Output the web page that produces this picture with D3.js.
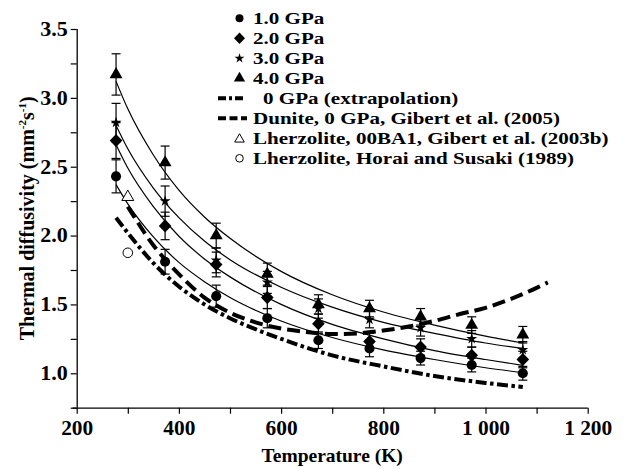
<!DOCTYPE html>
<html>
<head>
<meta charset="utf-8">
<script src="https://cdn.jsdelivr.net/npm/d3@7"></script>
<style>
  html, body { margin: 0; padding: 0; background: #fff; }
  svg { display: block; }
  text { font-family: "Liberation Serif", "Times New Roman", serif; font-weight: bold; fill: #000; }
</style>
</head>
<body>
<svg id="chart" width="629" height="469"></svg>
<script>
// ---------- data ----------
const temps = [277, 373, 473, 573, 673, 773, 873, 973, 1073];
const gpa1 = [2.43, 1.81, 1.56, 1.40, 1.24, 1.18, 1.11, 1.06, 1.00];
const gpa1Err = [0.12, 0.09, 0.08, 0.07, 0.06, 0.06, 0.05, 0.05, 0.05];
const gpa2 = [2.69, 2.07, 1.79, 1.55, 1.36, 1.23, 1.19, 1.13, 1.10];
const gpa2Err = [0.13, 0.10, 0.09, 0.08, 0.07, 0.06, 0.06, 0.06, 0.06];
const gpa3 = [2.82, 2.25, 1.82, 1.66, 1.47, 1.39, 1.33, 1.25, 1.17];
const gpa3Err = [0.14, 0.11, 0.09, 0.08, 0.07, 0.06, 0.06, 0.06, 0.06];
const gpa4 = [3.17, 2.53, 2.00, 1.72, 1.50, 1.47, 1.41, 1.35, 1.28];
const gpa4Err = [0.15, 0.12, 0.09, 0.08, 0.07, 0.06, 0.06, 0.06, 0.06];

// fitted curves
const fitTemps = [277, 300, 350, 400, 450, 500, 600, 700, 800, 900, 1000, 1073];
const fit1 = [2.37, 2.23, 1.99, 1.805, 1.665, 1.55, 1.38, 1.26, 1.17, 1.10, 1.04, 1.005];
const fit2 = [2.66, 2.49, 2.21, 1.995, 1.83, 1.70, 1.50, 1.355, 1.25, 1.165, 1.10, 1.058];
const fit3 = [2.80, 2.63, 2.345, 2.13, 1.96, 1.825, 1.625, 1.48, 1.37, 1.29, 1.22, 1.18];
const fit4 = [3.12, 2.92, 2.585, 2.33, 2.135, 1.98, 1.74, 1.57, 1.445, 1.35, 1.27, 1.22];

// 0 GPa extrapolation
const extrapTemps = [277, 300, 350, 400, 450, 500, 550, 600, 700, 800, 900, 1000, 1073];
const extrapVals = [2.13, 2.02, 1.80, 1.63, 1.50, 1.40, 1.32, 1.25, 1.13, 1.05, 0.98, 0.93, 0.90];

// Dunite, Gibert et al. (2005)
const duniteTemps = [300, 350, 400, 450, 500, 550, 600, 650, 700, 750, 800, 850, 900, 950, 1000, 1050, 1100, 1122];
const duniteVals = [2.21, 1.93, 1.72, 1.55, 1.44, 1.37, 1.325, 1.30, 1.285, 1.29, 1.31, 1.34, 1.38, 1.43, 1.475, 1.54, 1.62, 1.66];

// single literature points
const lherzGibert = [{t: 300, v: 2.28}];
const lherzHorai = [{t: 300, v: 1.875}];

const xTicks = [200, 300, 400, 500, 600, 700, 800, 900, 1000, 1100, 1200];
const xTickLabels = ["200", "", "400", "", "600", "", "800", "", "1 000", "", "1 200"];
const yTicks = [0.75, 1.0, 1.25, 1.5, 1.75, 2.0, 2.25, 2.5, 2.75, 3.0, 3.25, 3.5];
const yTickLabels = ["", "1.0", "", "1.5", "", "2.0", "", "2.5", "", "3.0", "", "3.5"];

const legendLabels = ["1.0 GPa", "2.0 GPa", "3.0 GPa", "4.0 GPa",
  "0 GPa (extrapolation)", "Dunite, 0 GPa, Gibert et al. (2005)",
  "Lherzolite, 00BA1, Gibert et al. (2003b)", "Lherzolite, Horai and Susaki (1989)"];

// ---------- drawing ----------
const svg = d3.select("#chart");
const x = d3.scaleLinear().domain([200, 1200]).range([76.7, 587.7]);
const y = d3.scaleLinear().domain([0.75, 3.5]).range([407.7, 29]);

// axes
const xAxis = d3.axisBottom(x).tickValues(xTicks).tickSize(6).tickSizeOuter(0)
  .tickFormat((d, i) => xTickLabels[i]);
const gx = svg.append("g").attr("transform", `translate(0,${y(0.75)})`).call(xAxis);
gx.select(".domain").attr("d", `M${x(200) - 4},0.5H${x(1200)}`).attr("stroke-width", 1.3);
gx.selectAll(".tick line").attr("stroke-width", 1.2);
gx.selectAll(".tick text").attr("font-size", 20).attr("y", 13).attr("dy", "0.71em")
  .attr("transform", "scale(1.07,1)")
  .style("font-family", '"Liberation Serif", serif').style("font-weight", "bold");

const yAxis = d3.axisLeft(y).tickValues(yTicks).tickSize(6).tickSizeOuter(0)
  .tickFormat((d, i) => yTickLabels[i]);
const gy = svg.append("g").attr("transform", `translate(${x(200)},0)`).call(yAxis);
gy.select(".domain").attr("d", `M0.5,${y(3.5)}V${y(0.75)}`).attr("stroke-width", 1.3);
gy.selectAll(".tick line").attr("stroke-width", 1.2);
gy.selectAll(".tick text").attr("font-size", 20).attr("x", -8.2)
  .attr("transform", "scale(1.1,1)")
  .style("font-family", '"Liberation Serif", serif').style("font-weight", "bold");

// axis titles
svg.append("text").attr("x", (x(200) + x(1200)) / 2).attr("y", 462)
  .attr("text-anchor", "middle").attr("font-size", 19.5).text("Temperature (K)");
const yt = svg.append("text").attr("transform", `translate(34,${(y(0.75) + y(3.5)) / 2}) rotate(-90)`)
  .attr("text-anchor", "middle").attr("font-size", 20);
yt.append("tspan").text("Thermal diffusivity (mm");
yt.append("tspan").attr("font-size", 11).attr("dy", -8).text("-2");
yt.append("tspan").attr("dy", 8).text("s");
yt.append("tspan").attr("font-size", 11).attr("dy", -8).text("-1");
yt.append("tspan").attr("dy", 8).text(")");

// lines
const line = d3.line().x(d => x(d[0])).y(d => y(d[1])).curve(d3.curveMonotoneX);
const zipPts = (ts, vs) => ts.map((t, i) => [t, vs[i]]);

[fit1, fit2, fit3, fit4].forEach(f => {
  svg.append("path").attr("d", line(zipPts(fitTemps, f)))
    .attr("fill", "none").attr("stroke", "#000").attr("stroke-width", 1.2);
});

svg.append("path").attr("d", line(zipPts(extrapTemps, extrapVals)))
  .attr("fill", "none").attr("stroke", "#000").attr("stroke-width", 4)
  .attr("stroke-dasharray", "11,3.5,3.5,3.5");
svg.append("path").attr("d", line(zipPts(duniteTemps, duniteVals)))
  .attr("fill", "none").attr("stroke", "#000").attr("stroke-width", 4)
  .attr("stroke-dasharray", "13,6");

// marker shapes
const diamondPath = (w, h) => `M0,${-h}L${w},0L0,${h}L${-w},0Z`;
const shapes = {
  circle: d3.symbol().type(d3.symbolCircle).size(80)(),
  diamond: diamondPath(6.3, 6.6),
  star: d3.symbol().type(d3.symbolStar).size(38)(),
  triangle: d3.symbol().type(d3.symbolTriangle).size(72)()
};

const series = [
  {vals: gpa1, err: gpa1Err, shape: "circle"},
  {vals: gpa2, err: gpa2Err, shape: "diamond"},
  {vals: gpa3, err: gpa3Err, shape: "star"},
  {vals: gpa4, err: gpa4Err, shape: "triangle"}
];

// error bars
series.forEach(s => {
  const g = svg.append("g").attr("stroke", "#000").attr("stroke-width", 1.2);
  temps.forEach((t, i) => {
    const cx = x(t), y0 = y(s.vals[i] - s.err[i]), y1 = y(s.vals[i] + s.err[i]);
    g.append("line").attr("x1", cx).attr("x2", cx).attr("y1", y0).attr("y2", y1);
    g.append("line").attr("x1", cx - 4.5).attr("x2", cx + 4.5).attr("y1", y0).attr("y2", y0);
    g.append("line").attr("x1", cx - 4.5).attr("x2", cx + 4.5).attr("y1", y1).attr("y2", y1);
  });
});
// markers
series.forEach(s => {
  svg.append("g").selectAll("path").data(temps).join("path")
    .attr("d", shapes[s.shape])
    .attr("transform", (t, i) => `translate(${x(t)},${y(s.vals[i])})`)
    .attr("fill", "#000");
});

svg.selectAll(".lg").data(lherzGibert).join("path")
  .attr("d", d3.symbol().type(d3.symbolTriangle).size(62)())
  .attr("transform", d => `translate(${x(d.t)},${y(d.v)})`)
  .attr("fill", "#fff").attr("stroke", "#000").attr("stroke-width", 1);
svg.selectAll(".lh").data(lherzHorai).join("circle")
  .attr("cx", d => x(d.t)).attr("cy", d => y(d.v)).attr("r", 4.8)
  .attr("fill", "#fff").attr("stroke", "#000").attr("stroke-width", 1);

// legend
const lg = svg.append("g");
const rowY = i => 18.3 + i * 20;
const markerX = 239.5;
[["circle", 50], ["diamond", 0], ["star", 30], ["triangle", 55]].forEach((m, i) => {
  const d = m[0] === "diamond" ? diamondPath(5.5, 5.8)
    : m[0] === "star" ? d3.symbol().type(d3.symbolStar).size(m[1])()
    : d3.symbol().type(m[0] === "circle" ? d3.symbolCircle : d3.symbolTriangle).size(m[1])();
  lg.append("path").attr("d", d).attr("transform", `translate(${markerX},${rowY(i)})`).attr("fill", "#000");
});
lg.append("line").attr("x1", 218).attr("x2", 245).attr("y1", rowY(4)).attr("y2", rowY(4))
  .attr("stroke", "#000").attr("stroke-width", 4).attr("stroke-dasharray", "8,3,3,3");
lg.append("line").attr("x1", 218).attr("x2", 247).attr("y1", rowY(5)).attr("y2", rowY(5))
  .attr("stroke", "#000").attr("stroke-width", 4).attr("stroke-dasharray", "8,3.5");
lg.append("path").attr("d", d3.symbol().type(d3.symbolTriangle).size(40)())
  .attr("transform", `translate(${markerX},${rowY(6) + 1})`)
  .attr("fill", "#fff").attr("stroke", "#000").attr("stroke-width", 1);
lg.append("circle").attr("cx", markerX).attr("cy", rowY(7)).attr("r", 3.8)
  .attr("fill", "#fff").attr("stroke", "#000").attr("stroke-width", 1);

legendLabels.forEach((lab, i) => {
  lg.append("text")
    .attr("transform", `translate(${i === 4 ? 263 : 253},${rowY(i)}) scale(1.24,1)`)
    .attr("dy", "0.35em")
    .attr("font-size", 17).text(lab);
});
</script>
</body>
</html>
